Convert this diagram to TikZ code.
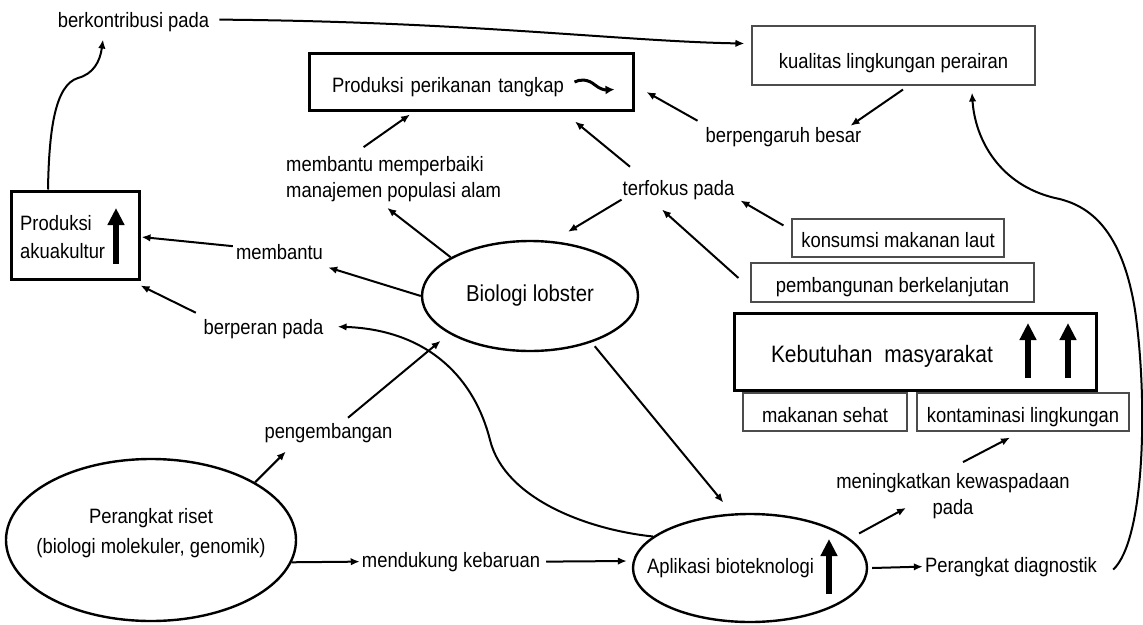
\documentclass[tikz,border=0pt]{standalone}
\usepackage{fontspec}
\setmainfont[FakeStretch=0.885]{Liberation Sans}
\usetikzlibrary{arrows.meta,shapes.geometric}
\newcommand\lblfont{\fontsize{20.8}{26}\selectfont}
\newcommand\biofont{\fontsize{23}{26}\selectfont}
\newcommand\kebfont{\fontsize{23.7}{28}\selectfont}
\tikzset{
  lbl/.style={font=\lblfont, inner sep=2pt, text=black},
  thinbox/.style={draw=black!70, line width=1.1pt, inner ysep=0pt, inner xsep=2pt, font=\lblfont},
  thickbox/.style={draw=black, line width=3pt, inner ysep=0pt},
  ellip/.style={ellipse, draw=black, line width=2.4pt, inner sep=0pt},
  arr/.style={line width=2pt, -{Latex[length=9pt,width=7.5pt]}},
  bigarr/.style={line width=5.5pt, -{Triangle[length=17pt,width=16pt]}},
  squig/.style={line width=3pt, -{Latex[length=9pt,width=9pt]}},
}
\begin{document}
\begin{tikzpicture}[x=1pt,y=-1pt]
\useasboundingbox (0,0) rectangle (1143,624);
\fill[white] (0,0) rectangle (1143,624);

% boxes
\node[thinbox, minimum width=283pt, text height=42pt, text depth=17pt] (kual) at (893.5,55.5) {kualitas lingkungan perairan};
\node[thickbox, align=left, text width=278pt, inner xsep=23pt, text height=39pt, text depth=18pt, font=\lblfont] (perik) at (471,81.5) {Produksi perikanan tangkap};
\node[thickbox, minimum width=128pt, minimum height=88pt, inner sep=0pt] (akua) at (75,235) {};
\node[lbl, align=left, anchor=north west, font=\fontsize{20.8}{28}\selectfont] (akuat) at (18,213.1) {Produksi\\akuakultur};
\node[thinbox, minimum width=212pt, text height=28pt, text depth=10pt] (kons) at (898,238) {konsumsi makanan laut};
\node[thinbox, minimum width=283pt, text height=29pt, text depth=10pt] (pemb) at (892.5,282.5) {pembangunan berkelanjutan};
\node[thickbox, align=left, text width=288pt, inner xsep=37pt, text height=49pt, text depth=28pt, font=\kebfont] (kebut) at (915,351.5) {Kebutuhan\hspace{12pt}masyarakat};
\node[thinbox, minimum width=164pt, text height=29pt, text depth=9pt] (maka) at (825,412) {makanan sehat};
\node[thinbox, minimum width=212pt, text height=29pt, text depth=9pt] (kont) at (1023,412) {kontaminasi lingkungan};

% ellipses
\node[ellip, minimum width=216pt, minimum height=110pt, font=\biofont] (bio) at (530,296) {Biologi lobster};
\node[ellip, minimum width=234pt, minimum height=108pt] (apl) at (750,568) {};
\node[lbl, anchor=base] (aplt) at (730.5,573) {Aplikasi bioteknologi};
\node[ellip, minimum width=290pt, minimum height=162pt] (riset) at (151,540) {};
\node[lbl, align=center, anchor=north, font=\fontsize{20.8}{30}\selectfont] (risett) at (151,506.1) {Perangkat riset\\(biologi molekuler, genomik)};

% labels
\node[lbl, anchor=base] (berk) at (133.5,27) {berkontribusi pada};
\node[lbl, anchor=base] (berp) at (783.5,142) {berpengaruh besar};
\node[lbl, align=left, anchor=north west] (mbp) at (284,154.1) {membantu memperbaiki\\manajemen populasi alam};
\node[lbl, anchor=base] (terf) at (678.5,195) {terfokus pada};
\node[lbl, anchor=base] (memb) at (279.5,259) {membantu};
\node[lbl, anchor=base] (berpr) at (263.5,334) {berperan pada};
\node[lbl, anchor=base] (peng) at (328.5,438) {pengembangan};
\node[lbl, anchor=base] (mend) at (451,567) {mendukung kebaruan};
\node[lbl, anchor=base] (diag) at (1011,572) {Perangkat diagnostik};
\node[lbl, align=center, anchor=north] (mening) at (953,471.1) {meningkatkan kewaspadaan\\pada};

% big arrows
\draw[bigarr] ([xshift=41pt,yshift=-29pt]akua.center) -- ([xshift=41pt,yshift=27pt]akua.center);
\draw[bigarr] ([xshift=113pt,yshift=-26.5pt]kebut.center) -- ([xshift=113pt,yshift=28.5pt]kebut.center);
\draw[bigarr] ([xshift=153pt,yshift=-26.5pt]kebut.center) -- ([xshift=153pt,yshift=28.5pt]kebut.center);
\draw[bigarr] ([xshift=79pt,yshift=-26pt]apl.center) -- ([xshift=79pt,yshift=29pt]apl.center);

% squiggle in perik
\draw[squig] ([xshift=-60pt,yshift=-0.5pt]perik.east) .. controls (580,79) and (588,79) .. (595,85) .. controls (600,89) and (604,90) .. ([xshift=-20pt,yshift=-8pt]perik.east);

% connectors
\draw[arr] ([xshift=8pt,yshift=2pt]berk.east) .. controls +(250,2) and +(-120,-2) .. ([xshift=-7pt,yshift=12pt]kual.west);
\draw[arr] ([xshift=-27pt]akua.north) .. controls (49,130) and (55,85) .. (78,78) .. controls (93,74) and (100,62) .. ([xshift=-30.5pt,yshift=-6pt]berk.south);
\draw[arr] ([xshift=9.5pt,yshift=-4pt]kual.south) -- ([xshift=-13pt,yshift=-1pt]berp.north east);
\draw[arr] ([xshift=-6pt,yshift=4pt]berp.north west) -- ([xshift=12pt,yshift=-10.5pt]perik.east);
\draw[arr] ([xshift=-30pt,yshift=7pt]mbp.north) -- ([xshift=-61pt,yshift=-3pt]perik.south);
\draw[arr] ([xshift=-48.5pt,yshift=11pt]terf.north) -- ([xshift=104pt,yshift=-10pt]perik.south);
\draw[arr] ([xshift=1pt,yshift=-10pt]terf.west) -- ([xshift=38pt,yshift=8pt]bio.north);
\draw[arr] ([xshift=-8pt,yshift=-7pt]kons.north west) -- ([xshift=4pt,yshift=1pt]terf.south east);
\draw[arr] ([xshift=-12pt,yshift=4.5pt]pemb.west) -- ([xshift=-16.5pt,yshift=-8pt]terf.south);
\draw[arr] (bio.west) -- ([xshift=3pt,yshift=-6pt]memb.south east);
\draw[arr] ([xshift=-1pt,yshift=5.4pt]memb.west) -- ([xshift=1pt,yshift=-2pt]akua.east);
\draw[arr] (bio.154) -- ([xshift=-6.4pt,yshift=-4pt]mbp.south);
\draw[arr] ([xshift=-5.6pt,yshift=4pt]berpr.north west) -- ([yshift=-5pt]akua.south east);
\draw[arr] (apl.162) .. controls (590,530) and (505,500) .. (490,440) .. controls (475,380) and (430,330) .. ([xshift=12pt,yshift=2pt]berpr.east);
\draw[arr] (riset.29) -- ([xshift=23.5pt,yshift=-7pt]peng.south west);
\draw[arr, shorten >=11pt] ([xshift=19.5pt,yshift=3pt]peng.north) -- (bio.205);
\draw[arr] (riset.-9) -- (mend.west);
\draw[arr] ([xshift=4pt]mend.east) -- ([xshift=-5pt,yshift=7pt]apl.west);
\draw[arr, shorten <=5pt] (bio.-37) -- ([xshift=3pt,yshift=12pt]apl.119);
\draw[arr] ([xshift=12pt,yshift=3pt]apl.18) -- ([xshift=-47pt,yshift=13pt]mening.south);
\draw[arr] ([xshift=10pt,yshift=9pt]mening.north) -- ([xshift=-13pt,yshift=-6pt]kont.south);
\draw[arr] ([xshift=4pt]apl.east) -- (diag.west);
\draw[arr] ([xshift=14pt,yshift=-3pt]diag.east) .. controls (1145,540) and (1148,400) .. (1135,310) .. controls (1122,230) and (1090,205) .. (1055,198) .. controls (1000,185) and (975,140) .. ([xshift=78.5pt,yshift=-7pt]kual.south);
\end{tikzpicture}
\end{document}
